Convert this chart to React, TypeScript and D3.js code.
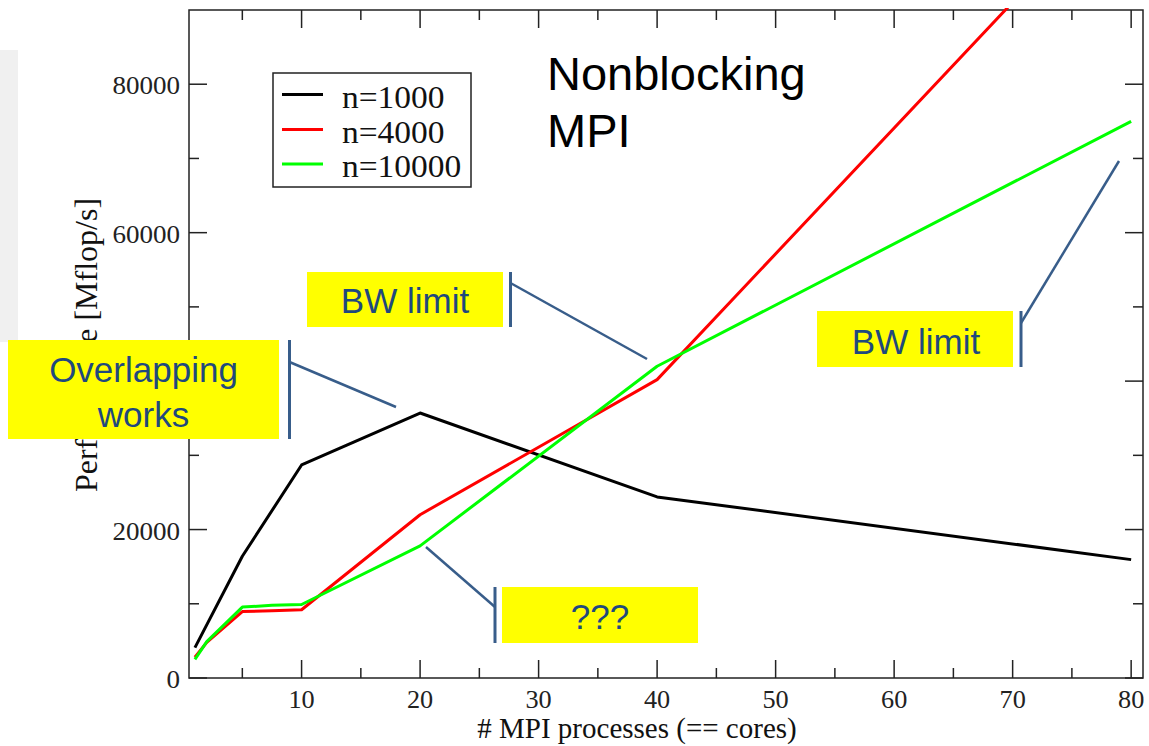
import React from "react";
import * as d3 from "d3";

const cores1000 = [1, 5, 10, 20, 40, 80];
const perf1000 = [4100, 16400, 28700, 35700, 24400, 15950];

const cores4000 = [1, 2, 5, 7.5, 10, 20, 40, 80];
const perf4000 = [2800, 4800, 8950, 9050, 9200, 22000, 40200, 108000];

const cores10000 = [1, 2, 5, 7.5, 10, 20, 40, 80];
const perf10000 = [2500, 4900, 9550, 9800, 9900, 17800, 42000, 75000];

const seriesNames = ["n=1000", "n=4000", "n=10000"];
const seriesColors = ["#000000", "#ff0000", "#00ff00"];

const xMajorTicks = [10, 20, 30, 40, 50, 60, 70, 80];
const xMinorTicks = [5, 15, 25, 35, 45, 55, 65, 75];
const yMajorTicks = [0, 20000, 40000, 60000, 80000];
const yMinorTicks = [10000, 30000, 50000, 70000];
const yLabelTicks = [0, 20000, 60000, 80000];

const W = 1149;
const H = 746;
const L = 189, R = 1143, T = 10, B = 678;

const ANN_TEXT = "#1F497D";
const ANN_LINE = "#385D8A";
const SANS = "'Liberation Sans', Arial, sans-serif";
const SERIF = "'Liberation Serif', 'Times New Roman', serif";

export default function App() {
  const x = d3.scaleLinear().domain([0.5, 81]).range([L, R]);
  const y = d3.scaleLinear().domain([0, 90000]).range([B, T]);
  const line = d3
    .line<[number, number]>()
    .x((d) => x(d[0]))
    .y((d) => y(d[1]));

  const series = [
    d3.zip(cores1000, perf1000) as [number, number][],
    d3.zip(cores4000, perf4000) as [number, number][],
    d3.zip(cores10000, perf10000) as [number, number][],
  ];

  const axisColor = "#222";

  return (
    <svg
      width={W}
      height={H}
      style={{ position: "absolute", left: 0, top: 0, background: "#fff" }}
    >
      <rect x={0} y={0} width={W} height={H} fill="#fff" />
      <rect x={0} y={50} width={18} height={292} fill="#f0f0f0" />
      <defs>
        <clipPath id="plotclip">
          <rect x={L} y={T - 2} width={R - L} height={B - T + 2} />
        </clipPath>
      </defs>

      {/* frame */}
      <rect x={L} y={T} width={R - L} height={B - T} fill="none" stroke={axisColor} strokeWidth={1.5} />

      {/* x ticks */}
      {xMajorTicks.map((t) => (
        <g key={"xM" + t}>
          <line x1={x(t)} x2={x(t)} y1={B} y2={B - 18} stroke={axisColor} strokeWidth={1.5} />
          <line x1={x(t)} x2={x(t)} y1={T} y2={T + 18} stroke={axisColor} strokeWidth={1.5} />
          <text
            transform={`translate(${x(t)},708) scale(1.05,1)`}
            textAnchor="middle"
            fontFamily={SERIF}
            fontSize={25}
            fill="#222"
          >
            {t}
          </text>
        </g>
      ))}
      {xMinorTicks.map((t) => (
        <g key={"xm" + t}>
          <line x1={x(t)} x2={x(t)} y1={B} y2={B - 10} stroke={axisColor} strokeWidth={1.5} />
          <line x1={x(t)} x2={x(t)} y1={T} y2={T + 10} stroke={axisColor} strokeWidth={1.5} />
        </g>
      ))}

      {/* y ticks */}
      {yMajorTicks.map((t) => (
        <g key={"yM" + t}>
          <line x1={L} x2={L + 18} y1={y(t)} y2={y(t)} stroke={axisColor} strokeWidth={1.5} />
          <line x1={R} x2={R - 18} y1={y(t)} y2={y(t)} stroke={axisColor} strokeWidth={1.5} />
        </g>
      ))}
      {yMinorTicks.map((t) => (
        <g key={"ym" + t}>
          <line x1={L} x2={L + 10} y1={y(t)} y2={y(t)} stroke={axisColor} strokeWidth={1.5} />
          <line x1={R} x2={R - 10} y1={y(t)} y2={y(t)} stroke={axisColor} strokeWidth={1.5} />
        </g>
      ))}
      {yLabelTicks.map((t) => (
        <text
          key={"yl" + t}
          transform={`translate(180,${y(t) + 10}) scale(1.04,1)`}
          textAnchor="end"
          fontFamily={SERIF}
          fontSize={26}
          fill="#222"
        >
          {t}
        </text>
      ))}

      {/* axis titles */}
      <text
        x={637}
        y={738}
        textAnchor="middle"
        fontFamily={SERIF}
        fontSize={29}
        fill="#111"
      >
        # MPI processes (== cores)
      </text>
      <text
        transform="translate(97,345) rotate(-90)"
        textAnchor="middle"
        fontFamily={SERIF}
        fontSize={32}
        fill="#111"
      >
        Performance [Mflop/s]
      </text>

      {/* data lines */}
      <g clipPath="url(#plotclip)">
        {series.map((s, i) => (
          <path
            key={"s" + i}
            d={line(s) || ""}
            fill="none"
            stroke={seriesColors[i]}
            strokeWidth={3}
            strokeLinejoin="round"
          />
        ))}
      </g>

      {/* legend */}
      <rect x={273} y={73} width={198} height={114} fill="#fff" stroke="#222" strokeWidth={1.5} />
      {seriesNames.map((n, i) => {
        const yy = [94.5, 129.5, 164][i];
        return (
          <g key={"lg" + i}>
            <line x1={282} x2={323} y1={yy} y2={yy} stroke={seriesColors[i]} strokeWidth={3} />
            <text
              transform={`translate(342,${yy + 13}) scale(1.08,1)`}
              fontFamily={SERIF}
              fontSize={31}
              fill="#111"
            >
              {n}
            </text>
          </g>
        );
      })}

      {/* title */}
      <text x={547} y={90} fontFamily={SANS} fontSize={47} fill="#000">
        Nonblocking
      </text>
      <text x={547} y={147} fontFamily={SANS} fontSize={47} fill="#000">
        MPI
      </text>

      {/* annotations */}
      {/* BW limit (left) */}
      <rect x={307} y={272} width={196} height={55} fill="#ffff00" />
      <text x={405} y={313} textAnchor="middle" fontFamily={SANS} fontSize={35} fill={ANN_TEXT}>
        BW limit
      </text>
      <line x1={510.5} x2={510.5} y1={272} y2={327} stroke={ANN_LINE} strokeWidth={3} />
      <line x1={510.5} y1={283} x2={647} y2={359} stroke={ANN_LINE} strokeWidth={2.5} />

      {/* Overlapping works */}
      <rect x={8} y={340} width={271} height={99} fill="#ffff00" />
      <text x={143.5} y={382} textAnchor="middle" fontFamily={SANS} fontSize={35} fill={ANN_TEXT}>
        Overlapping
      </text>
      <text x={143.5} y={427} textAnchor="middle" fontFamily={SANS} fontSize={35} fill={ANN_TEXT}>
        works
      </text>
      <line x1={289.5} x2={289.5} y1={340} y2={439} stroke={ANN_LINE} strokeWidth={3} />
      <line x1={289.5} y1={362} x2={396} y2={407} stroke={ANN_LINE} strokeWidth={2.5} />

      {/* ??? */}
      <rect x={502} y={587} width={196} height={56} fill="#ffff00" />
      <text x={600} y={629} textAnchor="middle" fontFamily={SANS} fontSize={35} fill={ANN_TEXT}>
        ???
      </text>
      <line x1={495} x2={495} y1={587} y2={643} stroke={ANN_LINE} strokeWidth={3} />
      <line x1={495} y1={607} x2={426} y2={547} stroke={ANN_LINE} strokeWidth={2.5} />

      {/* BW limit (right) */}
      <rect x={817} y={311} width={196} height={56} fill="#ffff00" />
      <text x={916} y={354} textAnchor="middle" fontFamily={SANS} fontSize={35} fill={ANN_TEXT}>
        BW limit
      </text>
      <line x1={1021} x2={1021} y1={311} y2={367} stroke={ANN_LINE} strokeWidth={3} />
      <line x1={1021} y1={323} x2={1119} y2={161} stroke={ANN_LINE} strokeWidth={2.5} />
    </svg>
  );
}
